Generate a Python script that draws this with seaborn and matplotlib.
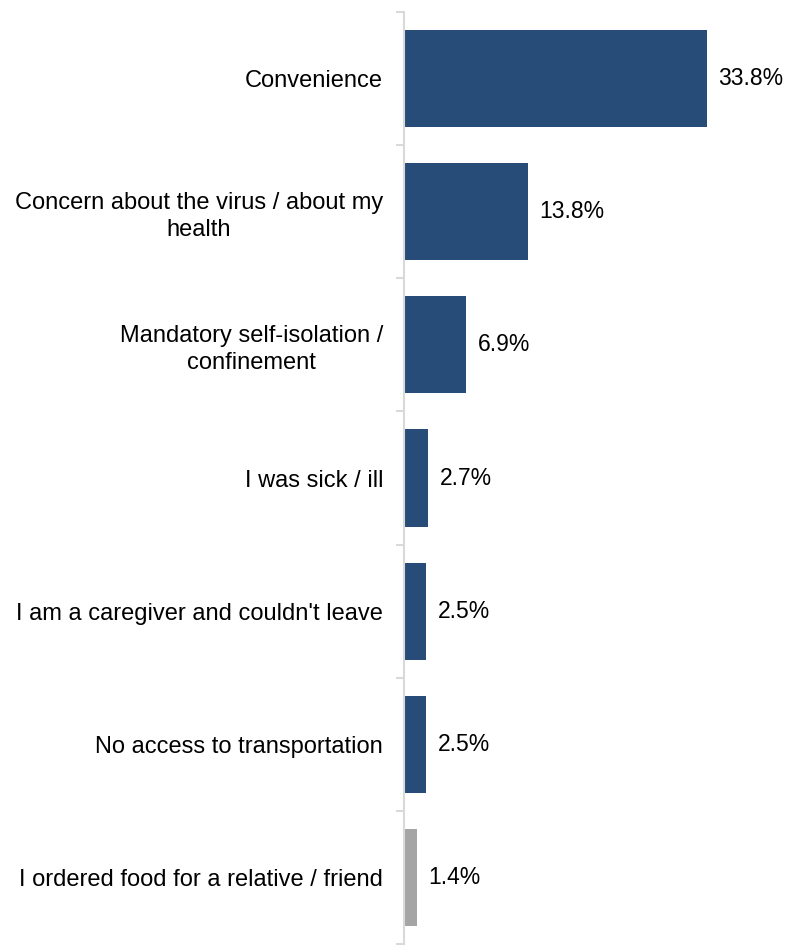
import matplotlib
matplotlib.use("Agg")
import matplotlib.pyplot as plt
import seaborn as sns
import pandas as pd
import numpy as np

categories = [
    "Convenience",
    "Concern about the virus / about my\nhealth",
    "Mandatory self-isolation /\nconfinement",
    "I was sick / ill",
    "I am a caregiver and couldn't leave",
    "No access to transportation",
    "I ordered food for a relative / friend",
]
values = [33.8, 13.8, 6.9, 2.7, 2.5, 2.5, 1.4]
colors = ["#264c77"] * 6 + ["#a5a5a5"]

sns.set_theme(style="white")
plt.rcParams["font.family"] = ["Liberation Sans", "DejaVu Sans"]

df = pd.DataFrame({"reason": categories, "pct": values})

fig = plt.figure(figsize=(7.89, 9.46), dpi=100)
ax = fig.add_axes([404 / 789, 2 / 946, 1 - 404 / 789, 932 / 946])

sns.barplot(data=df, y="reason", x="pct", hue="reason", palette=colors,
            legend=False, width=0.73, ax=ax, saturation=1, orient="h",
            linewidth=0)

ax.set_xlim(0, (789 - 404) / 8.96)
ax.set_ylim(len(categories) - 0.5, -0.5)
ax.set_xlabel("")
ax.set_ylabel("")
ax.set_xticks([])

for s in ["top", "right", "bottom"]:
    ax.spines[s].set_visible(False)
ax.spines["left"].set_color("#d9d9d9")
ax.spines["left"].set_linewidth(1.5)

ax.set_yticks(range(len(categories)))
ax.set_yticklabels(categories, fontsize=17, color="#000000",
                   multialignment="center", linespacing=1.3)
ax.tick_params(axis="y", which="major", length=0, pad=15)
ax.set_yticks(np.arange(-0.5, len(categories), 1.0), minor=True)
ax.tick_params(axis="y", which="minor", length=6, width=1.5,
               color="#d9d9d9", left=True)

for i, v in enumerate(values):
    ax.text(v + 1.3, i, f"{v:.1f}%", va="center", ha="left",
            fontsize=16.5, color="#000000")

fig.savefig("out.png", dpi=100, facecolor="white")
